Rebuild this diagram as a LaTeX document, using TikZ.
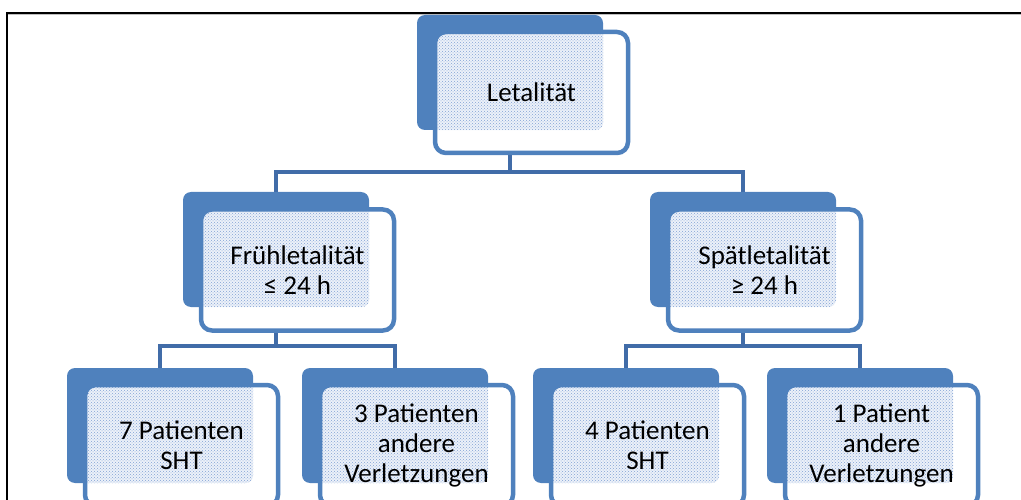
\documentclass[tikz,border=0pt]{standalone}
\usepackage{fontspec}
\setmainfont{Carlito}
\usetikzlibrary{patterns,backgrounds}
\definecolor{accent}{RGB}{79,129,189}
\definecolor{connblue}{RGB}{65,108,168}
\definecolor{dotblue}{RGB}{130,162,212}
\definecolor{patbg}{RGB}{236,241,249}
\begin{document}
\begin{tikzpicture}[x=1pt,y=-1pt,
  backbox/.style={rectangle, fill=accent, rounded corners=8pt, minimum width=186pt, minimum height=115pt, inner sep=0pt},
  frontbox/.style={rectangle, fill=white, draw=accent, line width=4.5pt, rounded corners=11pt,
    minimum width=193pt, minimum height=121pt, inner sep=0pt, align=center,
    font=\fontsize{27}{30}\selectfont,
    path picture={
      \fill[patbg, rounded corners=8pt] (#1.north west) rectangle (#1.south east);
      \fill[pattern=crosshatch dots, pattern color=dotblue, rounded corners=8pt] (#1.north west) rectangle (#1.south east);
    }},
  conn/.style={draw=connblue, line width=4.5pt},
  frame/.style={draw=black, line width=1.6pt},
]
\useasboundingbox (0,0) rectangle (1021,500);

% frame
\draw[gray!50, line width=1pt] (8,15) -- (1021,15);
\draw[frame] (7,500) -- (7,13) -- (1021,13);

% level 1
\node[backbox] (b1) at (510,72.5) {};
\node[frontbox=b1] (n1) at (531.5,92.5) {Letalität};

% level 2
\node[backbox] (b2) at (276,249.5) {};
\node[frontbox=b2] (n2) at (297.5,270) {Frühletalität\\≤ 24 h};
\node[backbox] (b3) at (743,249.5) {};
\node[frontbox=b3] (n3) at (764.5,270) {Spätletalität\\≥ 24 h};

% level 3
\node[backbox] (b4) at (160,425.5) {};
\node[frontbox=b4] (n4) at (181.5,445.5) {7 Patienten\\SHT};
\node[backbox] (b5) at (395,425.5) {};
\node[frontbox=b5] (n5) at (416.5,445.5) {3 Patienten\\andere\\Verletzungen};
\node[backbox] (b6) at (626,425.5) {};
\node[frontbox=b6] (n6) at (647.5,445.5) {4 Patienten\\SHT};
\node[backbox] (b7) at (860,425.5) {};
\node[frontbox=b7] (n7) at (881.5,445.5) {1 Patient\\andere\\Verletzungen};

\begin{scope}[on background layer]
  \draw[conn] (b1.south) -- ++(0,42) -| (b2.north);
  \draw[conn] (b1.south) -- ++(0,42) -| (b3.north);
  \draw[conn] (b2.south) -- ++(0,39) -| (b4.north);
  \draw[conn] (b2.south) -- ++(0,39) -| (b5.north);
  \draw[conn] (b3.south) -- ++(0,39) -| (b6.north);
  \draw[conn] (b3.south) -- ++(0,39) -| (b7.north);
\end{scope}
\end{tikzpicture}
\end{document}
